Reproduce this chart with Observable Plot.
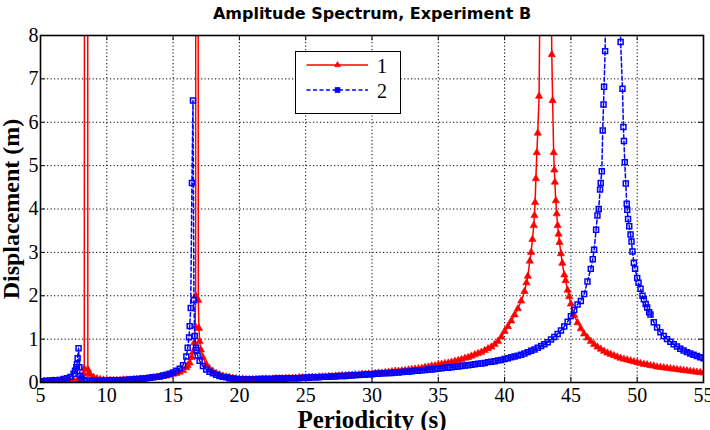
<!DOCTYPE html>
<html>
<head>
<meta charset="utf-8">
<script src="https://cdn.jsdelivr.net/npm/d3@7"></script>
<script src="https://cdn.jsdelivr.net/npm/@observablehq/plot@0.6"></script>
<style>
  html, body { margin: 0; padding: 0; background: #fff; }
  #wrap { position: relative; width: 710px; height: 430px; overflow: hidden; }
  #legend { position: absolute; left: 295px; top: 51px; }
  #wrap g[aria-label="x-axis tick label"], #wrap g[aria-label="y-axis tick label"],
  #wrap g[aria-label="x-axis tick label"] text, #wrap g[aria-label="y-axis tick label"] text {
    font-family: "Liberation Serif", serif !important;
    font-size: 20px !important;
    fill: #000 !important;
  }
</style>
</head>
<body>
<div id="wrap"></div>
<script>
const titleText = "Amplitude Spectrum, Experiment B";
const xLabel = "Periodicity (s)";
const yLabel = "Displacement (m)";
const seriesNames = ["1", "2"];
const xTicks = [5, 10, 15, 20, 25, 30, 35, 40, 45, 50, 55];
const yTicks = [0, 1, 2, 3, 4, 5, 6, 7, 8];

// shared period grid (s)
const periodGrid = [
  5, 5.25, 5.5, 5.75, 6, 6.25, 6.5, 6.75, 7, 7.25, 7.5, 7.75, 8, 8.25, 8.5, 8.75, 9, 9.25, 9.5, 9.75,
  10, 10.25, 10.5, 10.75, 11, 11.25, 11.5, 11.75, 12, 12.25, 12.5, 12.75, 13, 13.25, 13.5, 13.75, 14, 14.25, 14.5, 14.75,
  15, 15.25, 15.5, 15.75, 16, 16.25, 16.5, 16.75, 17, 17.25, 17.5, 17.75, 18, 18.25, 18.5, 18.75, 19, 19.25, 19.5, 19.75,
  20, 20.25, 20.5, 20.75, 21, 21.25, 21.5, 21.75, 22, 22.25, 22.5, 22.75, 23, 23.25, 23.5, 23.75, 24, 24.25, 24.5, 24.75,
  25, 25.25, 25.5, 25.75, 26, 26.25, 26.5, 26.75, 27, 27.25, 27.5, 27.75, 28, 28.25, 28.5, 28.75, 29, 29.25, 29.5, 29.75,
  30, 30.25, 30.5, 30.75, 31, 31.25, 31.5, 31.75, 32, 32.25, 32.5, 32.75, 33, 33.25, 33.5, 33.75, 34, 34.25, 34.5, 34.75,
  35, 35.25, 35.5, 35.75, 36, 36.25, 36.5, 36.75, 37, 37.25, 37.5, 37.75, 38, 38.25, 38.5, 38.75, 39, 39.25, 39.5, 39.75,
  40, 40.25, 40.5, 40.75, 41, 41.25, 41.5, 41.75, 42, 42.25, 42.5, 42.75, 43, 43.25, 43.5, 43.75, 44, 44.25, 44.5, 44.75,
  45, 45.25, 45.5, 45.75, 46, 46.25, 46.5, 46.75, 47, 47.25, 47.5, 47.75, 48, 48.25, 48.5, 48.75, 49, 49.25, 49.5, 49.75,
  50, 50.25, 50.5, 50.75, 51, 51.25, 51.5, 51.75, 52, 52.25, 52.5, 52.75, 53, 53.25, 53.5, 53.75, 54, 54.25, 54.5, 54.75,
  55
];

// series 1 (red) displacement on the grid (m)
const disp1Grid = [
  0.03, 0.03, 0.03, 0.03, 0.04, 0.04, 0.04, 0.04, 0.05, 0.05, 0.05, 0.04, 0.09, 0.2, 30, 0.18, 0.12, 0.09, 0.07, 0.06,
  0.05, 0.05, 0.05, 0.05, 0.05, 0.06, 0.06, 0.06, 0.07, 0.07, 0.08, 0.08, 0.09, 0.1, 0.11, 0.12, 0.13, 0.14, 0.15, 0.17,
  0.19, 0.21, 0.24, 0.28, 0.34, 0.45, 0.7, 30, 0.95, 0.58, 0.42, 0.32, 0.26, 0.21, 0.18, 0.15, 0.13, 0.12, 0.1, 0.09,
  0.08, 0.08, 0.07, 0.07, 0.07, 0.07, 0.07, 0.08, 0.08, 0.08, 0.08, 0.09, 0.09, 0.09, 0.1, 0.1, 0.1, 0.1, 0.11, 0.11,
  0.11, 0.12, 0.12, 0.12, 0.13, 0.13, 0.13, 0.14, 0.14, 0.15, 0.15, 0.16, 0.16, 0.17, 0.17, 0.18, 0.18, 0.19, 0.19, 0.2,
  0.2, 0.21, 0.22, 0.22, 0.23, 0.24, 0.25, 0.26, 0.26, 0.27, 0.28, 0.29, 0.3, 0.31, 0.32, 0.33, 0.35, 0.36, 0.38, 0.39,
  0.41, 0.42, 0.44, 0.45, 0.47, 0.49, 0.51, 0.53, 0.56, 0.58, 0.61, 0.64, 0.67, 0.7, 0.74, 0.78, 0.82, 0.88, 0.95, 1.05,
  1.18, 1.29, 1.42, 1.56, 1.7, 1.88, 2.1, 2.45, 3.0, 3.85, 5.75, 12, 20, 18, 9.5, 4.9, 3.62, 2.97, 2.48, 2.13,
  1.81, 1.55, 1.38, 1.24, 1.12, 1.03, 0.95, 0.88, 0.82, 0.77, 0.72, 0.68, 0.65, 0.62, 0.59, 0.56, 0.54, 0.52, 0.5, 0.48,
  0.46, 0.44, 0.42, 0.41, 0.39, 0.38, 0.36, 0.35, 0.34, 0.33, 0.32, 0.31, 0.3, 0.29, 0.28, 0.27, 0.26, 0.25, 0.24, 0.23,
  0.22
];
// series 1 extra samples near its resonances
const period1Peak = [7.9, 8.1, 8.3, 8.35, 8.54, 8.57, 8.65, 16.1, 16.4, 16.6, 16.66, 16.7, 16.73, 16.86, 16.9, 16.95, 17.1,
  41.65, 41.9, 42.1, 42.2, 42.3, 42.36, 42.43, 42.6, 43.56, 43.62, 43.7, 43.79, 43.86, 43.93, 44.07, 44.14, 44.35, 44.6, 44.87];
const disp1Peak = [0.04, 0.13, 0.32, 30, 30, 0.3, 0.22, 0.39, 0.58, 0.92, 1.3, 2.0, 30, 30, 1.89, 1.25, 0.75,
  2.3, 2.8, 3.3, 3.62, 4.15, 4.7, 5.3, 6.6, 7.56, 6.5, 5.3, 4.62, 4.19, 3.89, 3.42, 3.23, 2.75, 2.35, 1.98];

// series 2 (blue) displacement on the grid (m)
const disp2Grid = [
  0.03, 0.03, 0.04, 0.04, 0.05, 0.05, 0.06, 0.08, 0.1, 0.13, 0.2, 0.42, 0.15, 0.06, 0.04, 0.04, 0.04, 0.04, 0.04, 0.04,
  0.04, 0.05, 0.05, 0.05, 0.05, 0.06, 0.06, 0.07, 0.07, 0.08, 0.08, 0.09, 0.1, 0.11, 0.12, 0.13, 0.14, 0.16, 0.18, 0.2,
  0.23, 0.27, 0.32, 0.4, 0.6, 1.3, 6.5, 0.75, 0.5, 0.38, 0.3, 0.25, 0.21, 0.18, 0.15, 0.13, 0.12, 0.1, 0.09, 0.08,
  0.07, 0.07, 0.07, 0.07, 0.07, 0.07, 0.08, 0.08, 0.08, 0.08, 0.08, 0.09, 0.09, 0.09, 0.09, 0.1, 0.1, 0.1, 0.1, 0.11,
  0.11, 0.11, 0.12, 0.12, 0.12, 0.13, 0.13, 0.13, 0.14, 0.14, 0.15, 0.15, 0.15, 0.16, 0.16, 0.17, 0.17, 0.18, 0.18, 0.19,
  0.19, 0.2, 0.2, 0.21, 0.21, 0.22, 0.22, 0.23, 0.23, 0.24, 0.25, 0.25, 0.26, 0.27, 0.27, 0.28, 0.29, 0.3, 0.3, 0.31,
  0.32, 0.33, 0.34, 0.34, 0.35, 0.36, 0.37, 0.38, 0.39, 0.4, 0.41, 0.42, 0.43, 0.44, 0.45, 0.47, 0.48, 0.49, 0.51, 0.52,
  0.54, 0.56, 0.58, 0.6, 0.62, 0.64, 0.67, 0.7, 0.73, 0.76, 0.8, 0.84, 0.88, 0.93, 0.99, 1.05, 1.12, 1.2, 1.29, 1.4,
  1.53, 1.67, 1.8, 1.88, 2.04, 2.33, 2.62, 3.06, 3.85, 4.6, 6.82, 12, 20, 20, 14, 7.85, 5.57, 3.98, 3.41, 2.76,
  2.41, 2.16, 1.92, 1.73, 1.57, 1.39, 1.27, 1.16, 1.07, 1.0, 0.94, 0.88, 0.83, 0.78, 0.74, 0.7, 0.67, 0.64, 0.61, 0.58,
  0.56
];
// series 2 extra samples near its resonances
const period2Peak = [7.6, 7.7, 7.8, 7.87, 7.93, 8.1, 16.1, 16.2, 16.33, 16.42, 16.57, 16.63, 16.72, 16.85,
  46.65, 46.9, 47.1, 47.2, 47.33, 47.4, 47.46, 47.58, 48.89, 48.96, 49.06, 49.14, 49.21, 49.31, 49.4, 49.57, 49.64, 49.84, 50.1, 50.4, 50.64, 50.9];
const disp2Peak = [0.27, 0.35, 0.56, 0.79, 0.35, 0.08, 0.8, 1.04, 1.72, 4.6, 1.9, 1.07, 0.8, 0.62,
  2.84, 3.52, 4.0, 4.45, 4.87, 5.81, 6.41, 7.64, 6.77, 5.89, 5.08, 4.59, 4.12, 3.77, 3.6, 3.25, 3.02, 2.62, 2.3, 2.0, 1.81, 1.62];

function buildSeries(gx, gy, px, py) {
  const pts = gx.map((x, i) => ({x, y: gy[i]})).concat(px.map((x, i) => ({x, y: py[i]})));
  pts.sort((a, b) => a.x - b.x);
  return pts;
}
const s1 = buildSeries(periodGrid, disp1Grid, period1Peak, disp1Peak);
const s2 = buildSeries(periodGrid, disp2Grid, period2Peak, disp2Peak);

const RED = "#ff0000", BLUE = "#0000ff";
const serif = "Liberation Serif";

const chart = Plot.plot({
  width: 710,
  height: 430,
  marginTop: 35,
  marginBottom: 48,
  marginLeft: 40,
  marginRight: 7,
  x: {domain: [5, 55]},
  y: {domain: [0, 8]},
  style: {background: "white", color: "black"},
  marks: [
    Plot.ruleX(xTicks, {stroke: "#000", strokeWidth: 1, strokeDasharray: "1.2,2.3"}),
    Plot.ruleY(yTicks, {stroke: "#000", strokeWidth: 1, strokeDasharray: "1.2,2.3"}),
    Plot.ruleX(xTicks, {y1: 0, y2: 0.12, stroke: "#000", strokeWidth: 1}),
    Plot.ruleX(xTicks, {y1: 7.88, y2: 8, stroke: "#000", strokeWidth: 1}),
    Plot.ruleY(yTicks, {x1: 5, x2: 5.35, stroke: "#000", strokeWidth: 1}),
    Plot.ruleY(yTicks, {x1: 54.65, x2: 55, stroke: "#000", strokeWidth: 1}),
    Plot.line(s1, {x: "x", y: "y", stroke: RED, strokeWidth: 1.5, clip: true}),
    Plot.dot(s1, {x: "x", y: "y", symbol: "triangle", r: 2.7, fill: RED, stroke: RED, strokeWidth: 0.6, clip: true}),
    Plot.line(s2, {x: "x", y: "y", stroke: BLUE, strokeWidth: 1.5, strokeDasharray: "4,2.5", clip: true}),
    Plot.dot(s2, {x: "x", y: "y", symbol: "square", r: 2.8, fill: "none", stroke: BLUE, strokeWidth: 1.5, clip: true}),
    Plot.frame({stroke: "#000", strokeWidth: 1.6}),
    Plot.axisX(xTicks, {anchor: "bottom", tickSize: 0, tickPadding: 5, label: null, fontSize: 20}),
    Plot.axisY(yTicks, {anchor: "left", tickSize: 0, tickPadding: 2, label: null, fontSize: 20}),
    Plot.text([titleText], {frameAnchor: "top", lineAnchor: "middle", dy: -22, fontFamily: "DejaVu Sans", fontWeight: "bold", fontSize: 16}),
    Plot.text([xLabel], {frameAnchor: "bottom", lineAnchor: "middle", textAnchor: "middle", dy: 37, fontFamily: serif, fontWeight: "bold", fontSize: 25}),
    Plot.text([yLabel], {frameAnchor: "left", textAnchor: "middle", lineAnchor: "middle", dx: -29, rotate: -90, fontFamily: serif, fontWeight: "bold", fontSize: 24})
  ]
});

const wrap = document.getElementById("wrap");
wrap.appendChild(chart);
// make sure tick labels use the serif face
chart.querySelectorAll('g[aria-label$="tick label"]').forEach(g => {
  g.setAttribute("font-family", serif);
  g.setAttribute("font-size", 20);
  g.querySelectorAll("text").forEach(t => { t.setAttribute("font-family", serif); t.style.fontFamily = serif; });
});

// legend overlay
const ns = "http://www.w3.org/2000/svg";
const leg = document.createElementNS(ns, "svg");
leg.setAttribute("id", "legend");
leg.setAttribute("width", 107);
leg.setAttribute("height", 64);
leg.innerHTML = `
  <rect x="0.5" y="0.5" width="105" height="62" fill="#fff" stroke="#000" stroke-width="1"/>
  <line x1="11.5" y1="14" x2="73" y2="14" stroke="${RED}" stroke-width="1.5"/>
  <path d="M42.5,10.6 L45.5,15.8 L39.5,15.8 Z" fill="${RED}" stroke="${RED}" stroke-width="0.6"/>
  <text x="82" y="21.5" font-family="${serif}" font-size="20">${seriesNames[0]}</text>
  <line x1="11.5" y1="39" x2="73" y2="39" stroke="${BLUE}" stroke-width="1.5" stroke-dasharray="4,2.5"/>
  <rect x="40.2" y="36.7" width="4.6" height="4.6" fill="${BLUE}" stroke="${BLUE}" stroke-width="1"/>
  <text x="82" y="46.5" font-family="${serif}" font-size="20">${seriesNames[1]}</text>
`;
wrap.appendChild(leg);
</script>
</body>
</html>
